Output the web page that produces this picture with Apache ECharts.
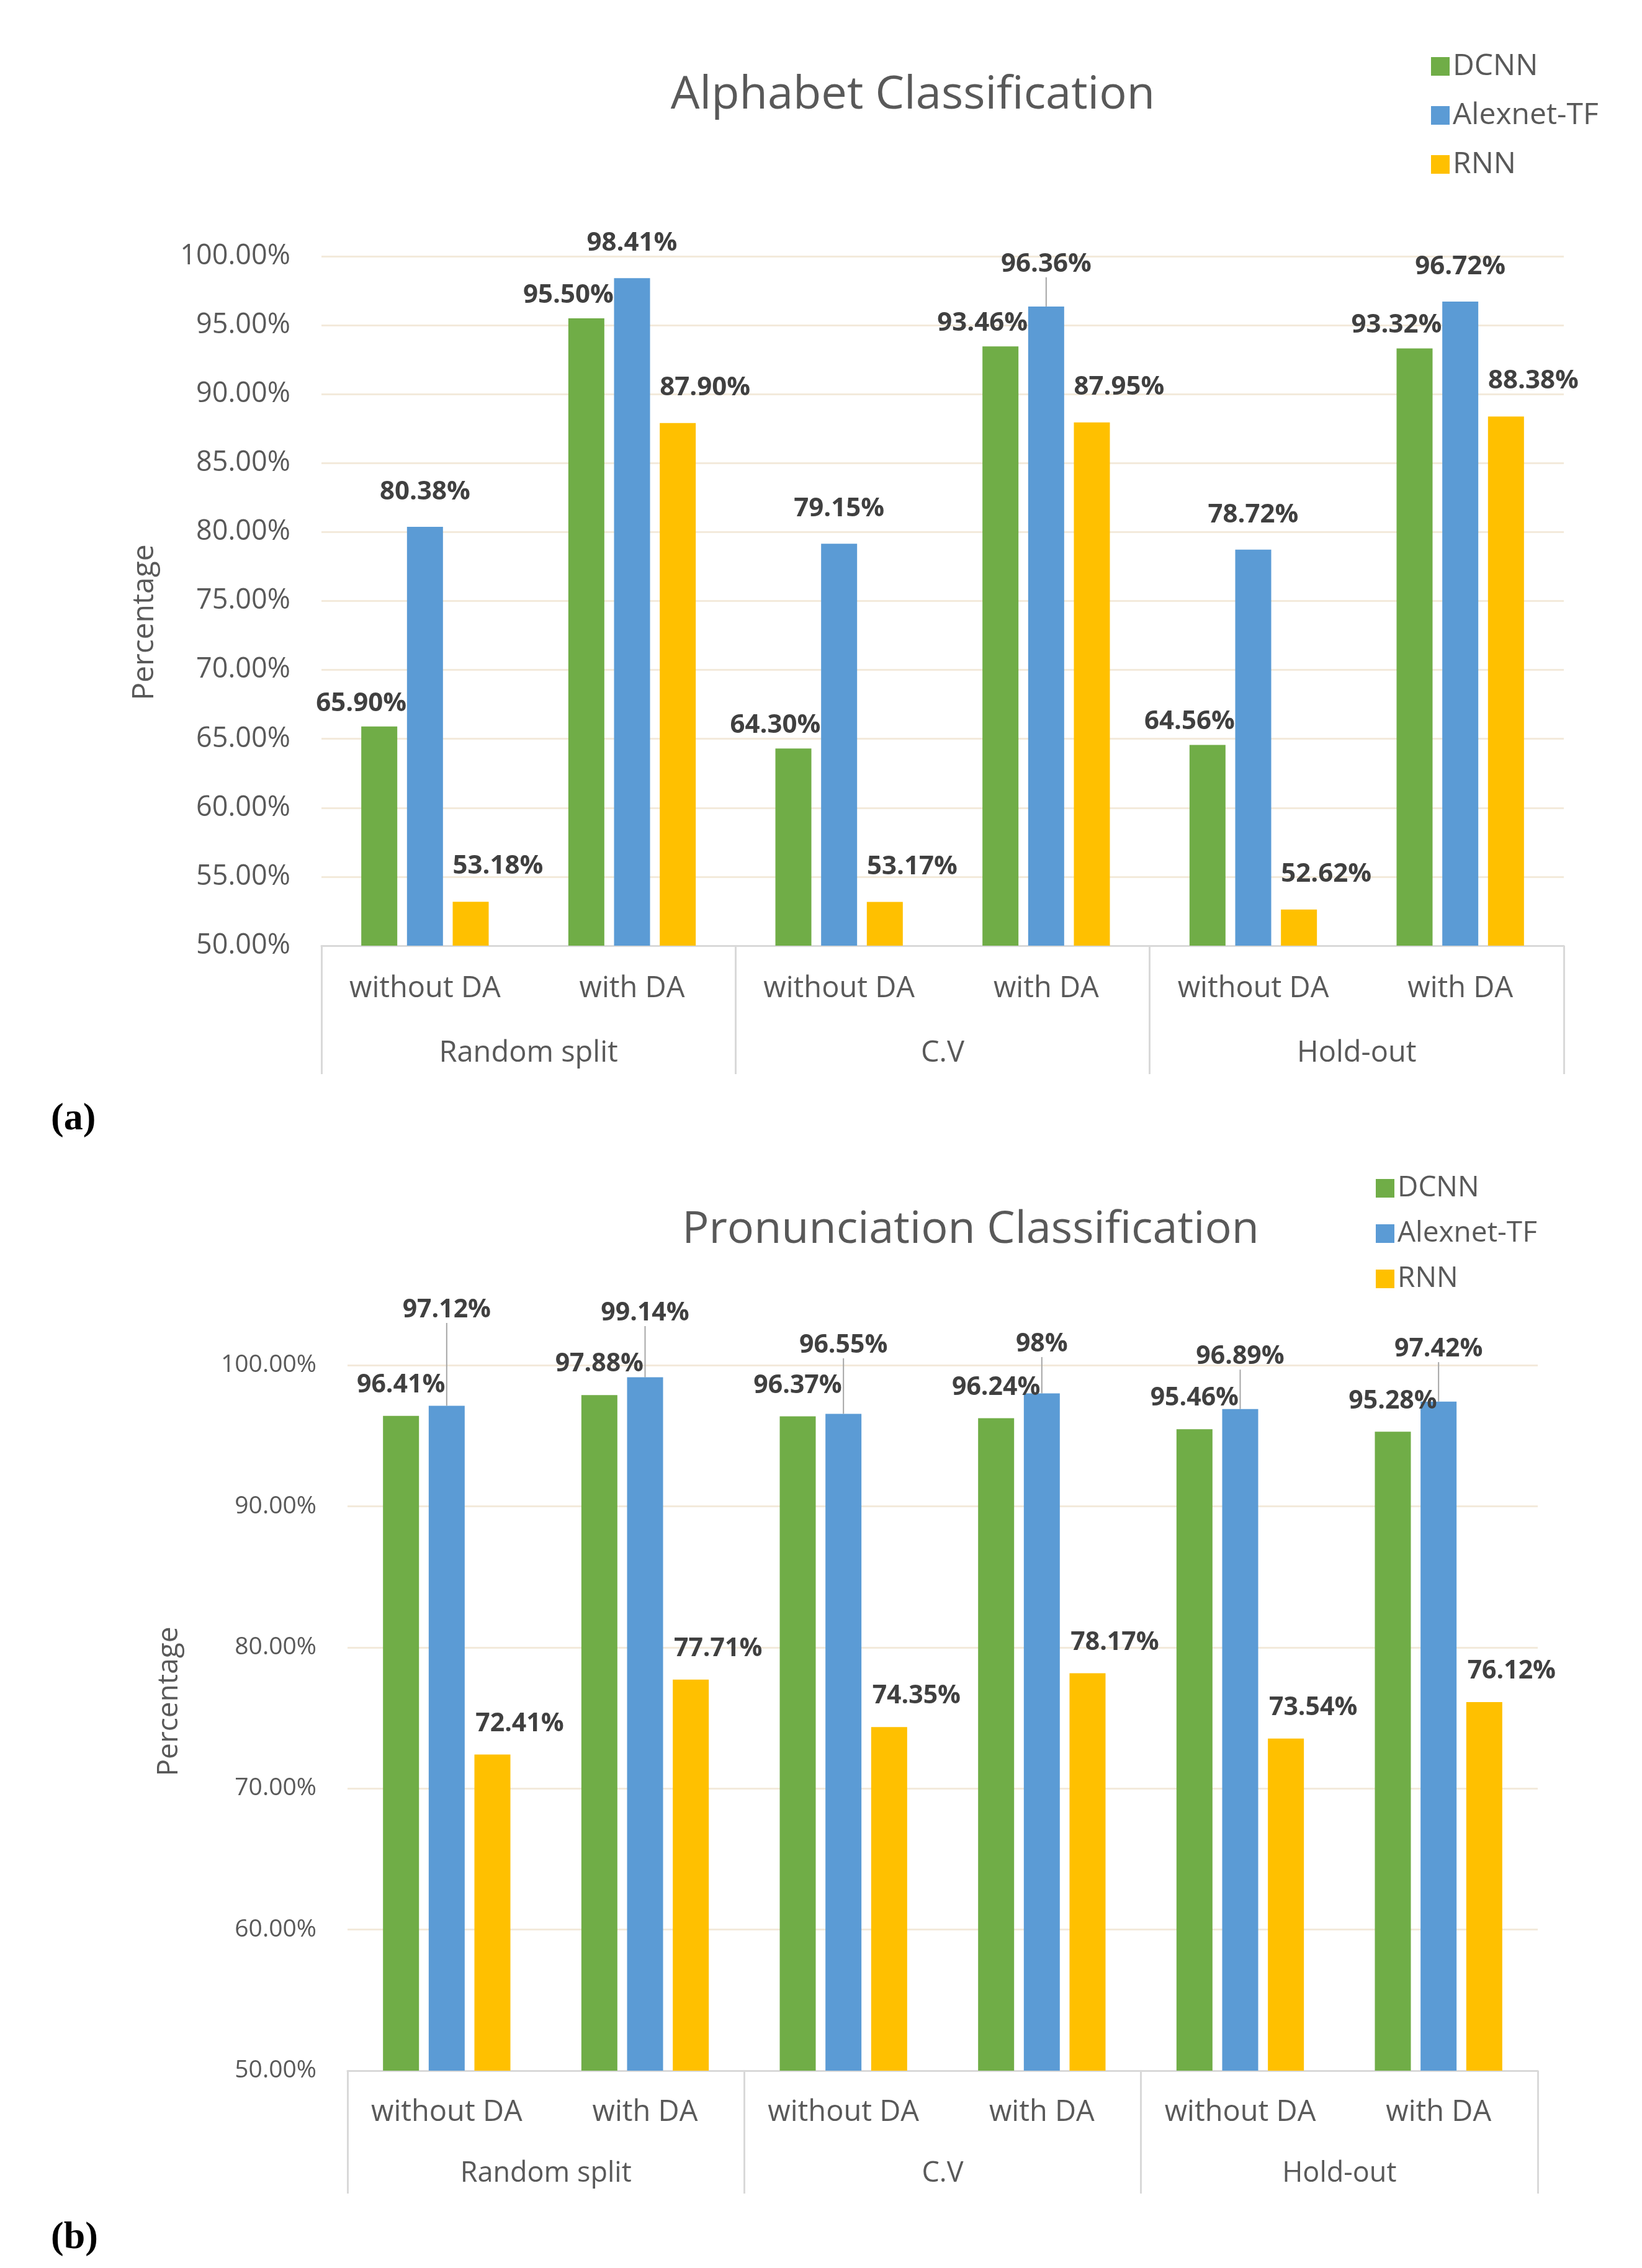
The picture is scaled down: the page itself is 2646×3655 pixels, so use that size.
<!DOCTYPE html>
<html>
<head>
<meta charset="utf-8">
<script src="https://cdn.jsdelivr.net/npm/echarts@6/dist/echarts.min.js"></script>
<style>
html,body{margin:0;padding:0;background:#fff;}
#main{width:2646px;height:3655px;}
</style>
</head>
<body>
<div id="main"></div>
<script>
// ---------- DATA ----------
const categories = ['without DA', 'with DA', 'without DA', 'with DA', 'without DA', 'with DA'];
const groups = ['Random split', 'C.V', 'Hold-out'];
const seriesNames = ['DCNN', 'Alexnet-TF', 'RNN'];

const alphaDCNN = [65.90, 95.50, 64.30, 93.46, 64.56, 93.32];
const alphaAlexnet = [80.38, 98.41, 79.15, 96.36, 78.72, 96.72];
const alphaRNN = [53.18, 87.90, 53.17, 87.95, 52.62, 88.38];

const pronDCNN = [96.41, 97.88, 96.37, 96.24, 95.46, 95.28];
const pronAlexnet = [97.12, 99.14, 96.55, 98, 96.89, 97.42];
const pronRNN = [72.41, 77.71, 74.35, 78.17, 73.54, 76.12];

const titleA = 'Alphabet Classification';
const titleB = 'Pronunciation Classification';
const yTitle = 'Percentage';

// ---------- STYLE ----------
const colors = ['#70AD47', '#5B9BD5', '#FFC000'];
const FONT = "'Open Sans', 'Noto Sans', sans-serif";
const GRAY = '#595959';
const LABEL = '#404040';
const GRID = '#F3EADB';
const AXIS = '#D9D9D9';

// label lift of the Alexnet labels (label centre above bar top, px) and leader flags
const alexLiftA = [56, 56, 56, 68, 56, 56];
const alexLeadA = [false, false, false, true, false, false];
const alexLiftB = [154, 103, 110, 79, 84, 84];
const alexLeadB = [true, true, true, true, true, true];

function fmt(v) {
  return (Number.isInteger(v) ? String(v) : v.toFixed(2)) + '%';
}

function makeSeries(gi, vals, cfg) {
  const fs = cfg.fs;
  const baseLabel = {
    show: true, position: 'top', color: LABEL, fontFamily: FONT,
    fontWeight: 'bold', fontSize: fs, lineHeight: fs,
    formatter: p => fmt(p.value)
  };
  const s = [];
  s.push({
    name: seriesNames[0], type: 'bar', xAxisIndex: gi * 2, yAxisIndex: gi,
    data: vals[0], barWidth: 58, barGap: '27%',
    itemStyle: { color: colors[0] },
    label: Object.assign({}, baseLabel, { distance: cfg.dcnnDist, offset: [cfg.dcnnOff, 0] })
  });
  s.push({
    name: seriesNames[1], type: 'bar', xAxisIndex: gi * 2, yAxisIndex: gi,
    data: vals[1].map((v, i) => ({ value: v, labelLine: { show: cfg.lead[i] } })),
    barWidth: 58, barGap: '27%',
    itemStyle: { color: colors[1] },
    label: Object.assign({}, baseLabel, { distance: 0 }),
    labelLayout: function (params) {
      return { dy: -(cfg.lift[params.dataIndex] - fs / 2) };
    },
    labelLine: { show: false, lineStyle: { color: '#A6A6A6', width: 2 } }
  });
  s.push({
    name: seriesNames[2], type: 'bar', xAxisIndex: gi * 2, yAxisIndex: gi,
    data: vals[2], barWidth: 58, barGap: '27%',
    itemStyle: { color: colors[2] },
    label: Object.assign({}, baseLabel, { distance: cfg.rnnDist, offset: [cfg.rnnOff, 0] })
  });
  return s;
}

function makeXAxes(gi, catFs, grpFs, catMargin, grpMargin, sepLen) {
  return [
    {
      type: 'category', gridIndex: gi, position: 'bottom', data: categories,
      axisLine: { show: true, lineStyle: { color: AXIS, width: 3 } },
      axisTick: { show: false },
      axisLabel: { color: GRAY, fontFamily: FONT, fontSize: catFs, margin: catMargin, interval: 0 }
    },
    {
      type: 'category', gridIndex: gi, position: 'bottom', data: groups,
      axisLine: { show: false },
      axisTick: { show: true, length: sepLen, lineStyle: { color: AXIS, width: 3 } },
      axisLabel: { color: GRAY, fontFamily: FONT, fontSize: grpFs, margin: grpMargin, interval: 0 },
      splitLine: { show: false }
    }
  ];
}

function makeYAxis(gi, interval, fs, margin) {
  return {
    type: 'value', gridIndex: gi, min: 50, max: 100, interval: interval,
    axisLine: { show: false }, axisTick: { show: false },
    axisLabel: { color: GRAY, fontFamily: FONT, fontSize: fs, margin: margin,
      formatter: v => v.toFixed(2) + '%' },
    splitLine: { show: true, lineStyle: { color: GRID, width: 3 } }
  };
}

const chart = echarts.init(document.getElementById('main'), null, { renderer: 'canvas' });

const option = {
  backgroundColor: '#ffffff',
  animation: false,
  title: [
    { text: titleA, left: 1466, top: 112, textAlign: 'center',
      textStyle: { color: GRAY, fontFamily: FONT, fontWeight: 'normal', fontSize: 74 } },
    { text: titleB, left: 1559, top: 1941, textAlign: 'center',
      textStyle: { color: GRAY, fontFamily: FONT, fontWeight: 'normal', fontSize: 72 } }
  ],
  legend: [
    { data: seriesNames, orient: 'vertical', left: 2301, top: 78, icon: 'rect',
      itemWidth: 30, itemHeight: 30, itemGap: 31,
      textStyle: { color: GRAY, fontFamily: FONT, fontSize: 48 } },
    { data: seriesNames, orient: 'vertical', left: 2212, top: 1887, icon: 'rect',
      itemWidth: 30, itemHeight: 30, itemGap: 27,
      textStyle: { color: GRAY, fontFamily: FONT, fontSize: 46 } }
  ],
  grid: [
    { left: 518, right: 126, top: 413, height: 1111, containLabel: false },
    { left: 560, right: 168, top: 2200, height: 1137, containLabel: false }
  ],
  xAxis: [].concat(
    makeXAxes(0, 47, 47, 46, 150, 207),
    makeXAxes(1, 47, 45, 44, 144, 198)
  ),
  yAxis: [
    makeYAxis(0, 5, 45, 50),
    makeYAxis(1, 10, 39, 50)
  ],
  series: [].concat(
    makeSeries(0, [alphaDCNN, alphaAlexnet, alphaRNN],
      { dcnnOff: -29, dcnnDist: 16, rnnOff: 44, rnnDist: 36, lift: alexLiftA, lead: alexLeadA, fs: 42 }),
    makeSeries(1, [pronDCNN, pronAlexnet, pronRNN],
      { dcnnOff: 0, dcnnDist: 29, rnnOff: 44, rnnDist: 29, lift: alexLiftB, lead: alexLeadB, fs: 41 })
  ),
  graphic: [
    { type: 'text', x: 233, y: 1003, rotation: Math.PI / 2,
      style: { text: yTitle, fill: GRAY, font: "48px 'Open Sans', sans-serif", textAlign: 'center', textVerticalAlign: 'middle' } },
    { type: 'text', x: 273, y: 2742, rotation: Math.PI / 2,
      style: { text: yTitle, fill: GRAY, font: "46px 'Open Sans', sans-serif", textAlign: 'center', textVerticalAlign: 'middle' } },
    { type: 'text', x: 82, y: 1804,
      style: { text: '(a)', fill: '#000', font: "bold 62px 'Liberation Serif', 'DejaVu Serif', serif", textAlign: 'left', textVerticalAlign: 'middle' } },
    { type: 'text', x: 82, y: 3607,
      style: { text: '(b)', fill: '#000', font: "bold 62px 'Liberation Serif', 'DejaVu Serif', serif", textAlign: 'left', textVerticalAlign: 'middle' } }
  ]
};

chart.setOption(option);
</script>
</body>
</html>
